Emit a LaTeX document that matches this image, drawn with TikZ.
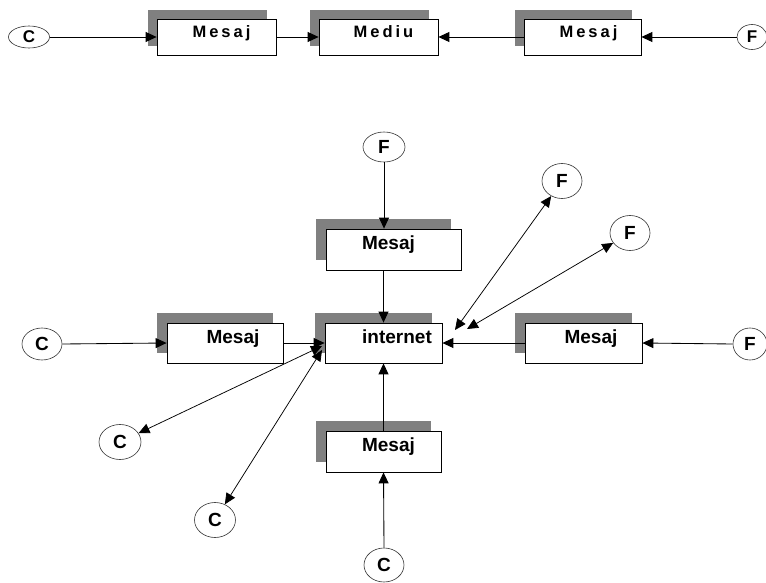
\documentclass[tikz,border=0pt]{standalone}
\usepackage{fontspec}
\setmainfont{Liberation Sans}
\newfontfamily\spacedsans[LetterSpace=18]{Liberation Sans}
\usetikzlibrary{arrows.meta,shapes.geometric,shadows}
\definecolor{shadowgray}{RGB}{128,128,128}
\begin{document}
\begin{tikzpicture}[x=1pt,y=-1pt,
  box/.style={rectangle, draw=black, line width=0.8pt, fill=white, inner sep=0pt,
    general shadow={fill=shadowgray, shadow xshift=-#1, shadow yshift=#1}},
  box/.default=10pt,
  oval/.style={ellipse, draw=black!80, line width=0.6pt, fill=white, inner sep=0pt,
    font=\bfseries\fontsize{19}{19}\selectfont},
  smalloval/.style={oval, font=\bfseries\fontsize{17}{17}\selectfont},
  tip/.tip={Triangle[length=11pt,width=10pt]},
  conn/.style={draw=black, line width=0.85pt, -tip},
  biconn/.style={draw=black, line width=0.75pt, tip-tip},
  lbl/.style={anchor=base, inner sep=0pt, font=\bfseries\fontsize{19}{19}\selectfont},
  toplbl/.style={anchor=base, inner sep=0pt, font=\spacedsans\bfseries\fontsize{16.5}{16.5}\selectfont}
]
\useasboundingbox (0,0) rectangle (766,583);

% ---------- linear chain ----------
\node[smalloval, minimum width=41pt, minimum height=22pt] (c0) at (29,37) {C};
\node[box=9pt, minimum width=119pt, minimum height=36pt] (m1) at (216.5,37) {};
\node[box=9pt, minimum width=119pt, minimum height=36pt] (md) at (378.5,37) {};
\node[box=9pt, minimum width=117pt, minimum height=36pt] (m3) at (582.5,37) {};
\node[smalloval, minimum width=30pt, minimum height=25pt] (f0) at (752,37) {F};

\node[toplbl] (m1t) at ([xshift=5pt,yshift=-19pt]m1.north) {Mesaj};
\node[toplbl] (mdt) at ([xshift=5pt,yshift=-19pt]md.north) {Mediu};
\node[toplbl] (m3t) at ([xshift=6pt,yshift=-19pt]m3.north) {Mesaj};

\draw[conn] (c0.east) -- (m1.west);
\draw[conn] (m1.east) -- (md.west);
\draw[conn] (m3.west) -- (md.east);
\draw[conn] (f0.west) -- (m3.east);

% ---------- star around the internet ----------
\node[box, minimum width=117pt, minimum height=40pt] (inet) at (383.5,343) {};
\node[box, minimum width=135pt, minimum height=41pt] (mT) at (393.5,249.5) {};
\node[box, minimum width=116pt, minimum height=40pt] (mL) at (225,343) {};
\node[box, minimum width=117pt, minimum height=40pt] (mR) at (583.5,343) {};
\node[box, minimum width=115pt, minimum height=41pt] (mB) at (383.5,451.5) {};

\node[lbl] (inett) at ([xshift=13.5pt,yshift=-21pt]inet.north) {internet};
\node[lbl] (mTt) at ([xshift=-5pt,yshift=-21pt]mT.north) {Mesaj};
\node[lbl] (mLt) at ([xshift=8pt,yshift=-21pt]mL.north) {Mesaj};
\node[lbl] (mRt) at ([xshift=7.5pt,yshift=-21pt]mR.north) {Mesaj};
\node[lbl] (mBt) at ([xshift=5pt,yshift=-21pt]mB.north) {Mesaj};

\node[oval, minimum width=42pt, minimum height=30pt] (fT) at (384,147) {F};
\node[oval, minimum width=40pt, minimum height=32pt] (cL) at (42,344) {C};
\node[oval, minimum width=34pt, minimum height=32pt] (fR) at (750,344) {F};
\node[oval, minimum width=42pt, minimum height=35pt] (cD1) at (120,442) {C};
\node[oval, minimum width=41pt, minimum height=35pt] (cD2) at (215,520) {C};
\node[oval, minimum width=40pt, minimum height=34pt] (cB) at (384,565) {C};
\node[oval, minimum width=40pt, minimum height=35pt] (fD1) at (562,181) {F};
\node[oval, minimum width=40pt, minimum height=35pt] (fD2) at (630,233) {F};

% ends of the two-way links beside the internet box
\coordinate (hubL1) at (322,346);
\coordinate (hubL2) at (322,350);
\coordinate (hubR1) at (455,330);
\coordinate (hubR2) at (467,329);

\draw[conn] (fT.south) -- (fT.south |- mT.north);
\draw[conn] (inet.north |- mT.south) -- (inet.north);
\draw[conn] (cL.east) -- (mL.west);
\draw[conn] (mL.east) -- (inet.west);
\draw[conn] (fR.west) -- (mR.east);
\draw[conn] (mR.west) -- (inet.east);
\draw[conn] (cB.north) -- (mB.south);
\draw[conn] (mB.north) -- (inet.south);

\draw[biconn] (hubL1) -- (cD1);
\draw[biconn] (hubL2) -- (cD2);
\draw[biconn] (hubR1) -- (fD1);
\draw[biconn] (hubR2) -- (fD2);
\end{tikzpicture}
\end{document}
